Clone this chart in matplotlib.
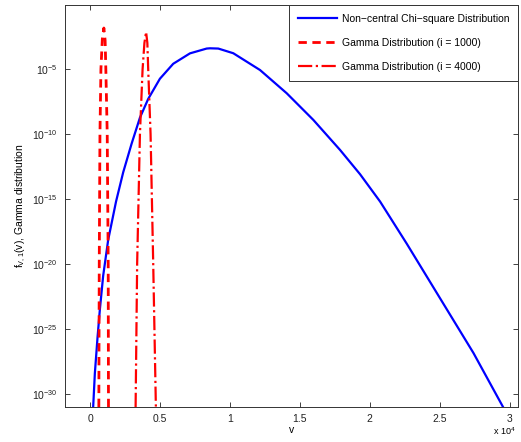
import numpy as np
import matplotlib
matplotlib.use("Agg")
import matplotlib.pyplot as plt
from matplotlib.ticker import FixedLocator, FixedFormatter, NullLocator

plt.rcParams['font.family'] = ['Liberation Sans', 'DejaVu Sans']
plt.rcParams['mathtext.fontset'] = 'custom'
plt.rcParams['mathtext.rm'] = 'Liberation Sans'
plt.rcParams['mathtext.it'] = 'Liberation Sans'
plt.rcParams['mathtext.default'] = 'regular'

# non-central chi-square curve (v, log10 f)
chi_v = [215, 336, 530, 694, 931, 1288, 1850, 2362, 2963, 3558, 4152,
         4989, 5941, 7137, 8332, 8568, 9163, 10236, 12147, 14059, 15963,
         17874, 19306, 20737, 22649, 25032, 27416, 29520]
chi_logf = [-31.0, -28.4, -25.6, -23.5, -20.9, -18.15, -15.2, -12.95,
            -10.75, -8.75, -7.3, -5.75, -4.6, -3.8, -3.43, -3.41, -3.43,
            -3.79, -5.08, -6.87, -8.92, -11.23, -13.1, -15.2, -18.45,
            -22.65, -26.85, -30.98]

# gamma approximation, i = 1000
g1_v = [620, 650, 700, 770, 870, 980, 1070, 1120, 1220, 1290, 1310]
g1_logf = [-31.0, -20.0, -10.0, -5.0, -2.7, -1.85, -2.8, -5.0, -10.0,
           -20.0, -31.0]

# gamma approximation, i = 4000
g4_v = [3250, 3360, 3560, 3750, 3880, 4000, 4090, 4150, 4320, 4510, 4700]
g4_logf = [-31.0, -20.0, -10.0, -5.0, -3.0, -2.15, -3.0, -5.0, -10.0,
           -20.0, -31.0]

ytick_exp = [-30, -25, -20, -15, -10, -5]
xtick_vals = [0, 5000, 10000, 15000, 20000, 25000, 30000]
xtick_labels = ['0', '0.5', '1', '1.5', '2', '2.5', '3']

fig = plt.figure(figsize=(5.21, 4.42), dpi=100)
ax = fig.add_axes([65 / 521, 1 - 407 / 442, 453 / 521, 402 / 442])

ax.semilogy(chi_v, 10.0 ** np.array(chi_logf), color='#0000ff', lw=1.6,
            solid_joinstyle='round',
            label='Non\u2212central Chi\u2212square Distribution')
ax.semilogy(g1_v, 10.0 ** np.array(g1_logf), color='#ff0000', lw=2.0,
            ls=(0, (3, 2)), label='Gamma Distribution (i = 1000)')
ax.semilogy(g4_v, 10.0 ** np.array(g4_logf), color='#ff0000', lw=1.6,
            ls='-.', label='Gamma Distribution (i = 4000)')

ax.set_xlim(-1800, 30600)
ax.set_ylim(1e-31, 10 ** -0.08)

ax.yaxis.set_major_locator(FixedLocator([10.0 ** e for e in ytick_exp]))
ax.yaxis.set_major_formatter(FixedFormatter(['$10^{%d}$' % e for e in ytick_exp]))
ax.yaxis.set_minor_locator(NullLocator())
ax.xaxis.set_major_locator(FixedLocator(xtick_vals))
ax.xaxis.set_major_formatter(FixedFormatter(xtick_labels))

ax.tick_params(direction='in', top=True, right=True, length=3.5, width=0.6,
               labelsize=7.5, colors='#222222', pad=5)
for s in ax.spines.values():
    s.set_linewidth(0.7)
    s.set_color('#333333')

ax.set_xlabel('v', fontsize=7.5, labelpad=1)
ax.set_ylabel('f$_{V,1}$(v), Gamma distribution', fontsize=7.5, labelpad=3)
ax.text(0.995, -0.045, 'x 10$^4$', transform=ax.transAxes, fontsize=6.5,
        ha='right', va='top')

leg = ax.legend(loc='upper right', fontsize=7.5, borderaxespad=0,
                handlelength=3.8, handletextpad=0.4, labelspacing=1.35,
                fancybox=False, framealpha=1, borderpad=0.85)
leg.get_frame().set_edgecolor('#333333')
leg.get_frame().set_linewidth(0.7)

fig.savefig('out.png', dpi=100)
